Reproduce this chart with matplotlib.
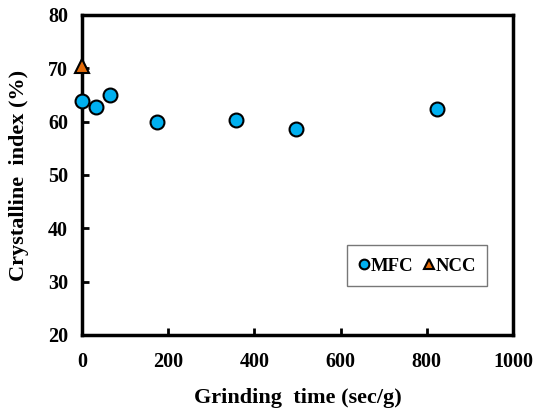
import matplotlib
matplotlib.use("Agg")
import matplotlib.pyplot as plt

# data
mfc_time = [0, 32, 66, 173, 357, 497, 824]
mfc_ci = [63.9, 62.8, 65.0, 59.9, 60.3, 58.6, 62.4]
ncc_time = [0]
ncc_ci = [70.5]

x_ticks = [0, 200, 400, 600, 800, 1000]
y_ticks = [20, 30, 40, 50, 60, 70, 80]

plt.rcParams['font.family'] = ['Liberation Serif', 'DejaVu Serif']
plt.rcParams['font.weight'] = 'bold'

fig = plt.figure(figsize=(5.35, 4.08), dpi=100)
ax = fig.add_axes([82 / 535, 1 - 335 / 408, (513 - 82) / 535, (335 - 15) / 408])

ax.plot(mfc_time, mfc_ci, 'o', ms=10, mfc='#00B0F0', mec='black', mew=1.5,
        label='MFC', clip_on=False, zorder=3)
ax.plot(ncc_time, ncc_ci, '^', ms=10, mfc='#E46C0A', mec='black', mew=1.5,
        label='NCC', clip_on=False, zorder=3)

ax.set_xlim(0, 1000)
ax.set_ylim(20, 80)
ax.set_xticks(x_ticks)
ax.set_yticks(y_ticks)
ax.tick_params(direction='in', length=5, width=2, labelsize=14.5)
ax.tick_params(axis='x', pad=12)
ax.tick_params(axis='y', pad=10)
for s in ax.spines.values():
    s.set_linewidth(2.5)

ax.set_xlabel('Grinding  time (sec/g)', fontsize=16, fontweight='bold', labelpad=12)
ax.set_ylabel('Crystalline  index (%)', fontsize=16, fontweight='bold', labelpad=14)

leg = ax.legend(loc='upper left', bbox_to_anchor=(0.615, 0.281), borderaxespad=0,
                ncol=2, handlelength=0.6, handleheight=1.0, handletextpad=0.05,
                columnspacing=0.55, fancybox=False, edgecolor='#555555',
                fontsize=13.5, markerscale=0.7, borderpad=0.6)
leg.get_frame().set_linewidth(1)

fig.savefig('out.png', dpi=100)
